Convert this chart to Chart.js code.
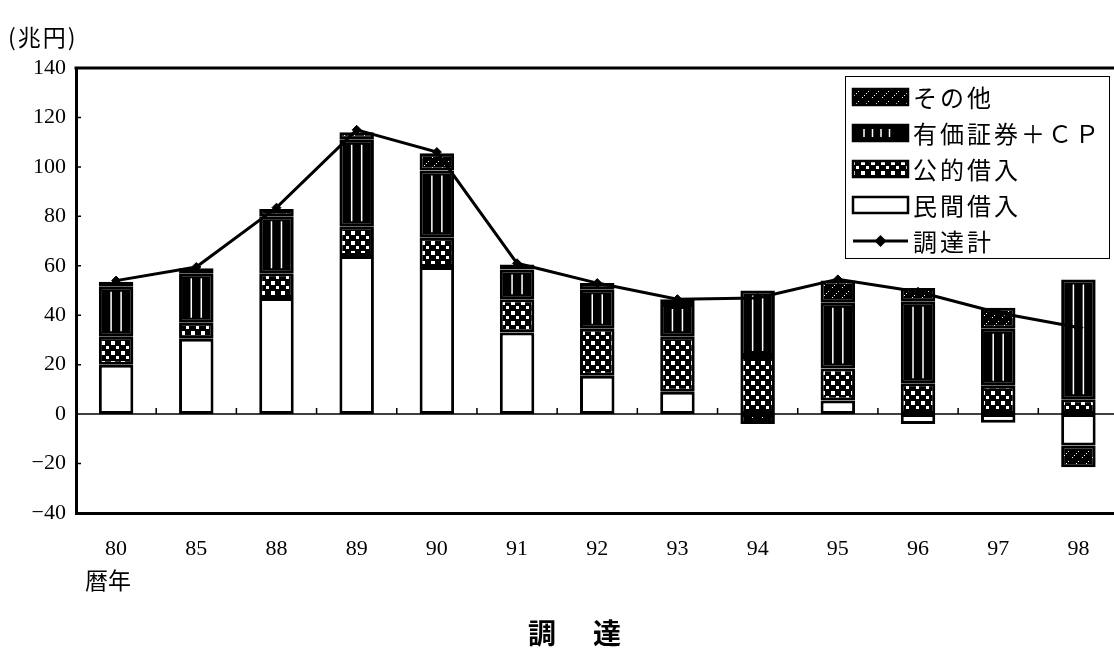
<!DOCTYPE html>
<html lang="ja">
<head>
<meta charset="utf-8">
<title>調達</title>
<script src="https://cdn.jsdelivr.net/npm/chart.js@4.4.1/dist/chart.umd.min.js"></script>
<style>
  html, body { margin: 0; padding: 0; background: #fff; overflow: hidden; }
  #chart { display: block; }
</style>
</head>
<body>
<canvas id="chart" width="1124" height="648"></canvas>
<script>
// 暦年
var years = ['80', '85', '88', '89', '90', '91', '92', '93', '94', '95', '96', '97', '98'];

// 調達の内訳（兆円）
var minkanKariire = [20, 30.5, 47, 64, 59.5, 33, 15.5, 9, 0, 5.5, -4, -3.5, -12.7];
var kotekiKariire = [11.5, 6.5, 10, 12, 12, 13.5, 19, 22.5, 23.5, 13, 12.5, 11.5, 6];
var yukaShoken = [20, 20, 23, 35, 27, 12, 16, 13, 26.5, 26.5, 33, 23, 48.5];
var sonota = [2, 2, 3, 3, 7, 2, 2.5, 2, -4, 9, 5.5, 8.5, -8.8];
var chotatsuKei = [54, 59.5, 83.5, 115, 106, 61, 53, 46.5, 47, 54.5, 49.5, 41, 35];

var yTicks = { min: -40, max: 140, step: 20 };

var numFont = '"Liberation Serif", "Noto Sans CJK JP", serif';
var jpFont = '"Noto Sans CJK JP", sans-serif';

var canvas = document.getElementById('chart');
var mainCtx = canvas.getContext('2d');

function makePattern(size, draw) {
    var c = document.createElement('canvas');
    c.width = size;
    c.height = size;
    var g = c.getContext('2d');
    g.fillStyle = '#000';
    g.fillRect(0, 0, size, size);
    g.fillStyle = '#fff';
    draw(g);
    return mainCtx.createPattern(c, 'repeat');
}

// 公的借入: checker
var checkFill = makePattern(10, function (g) {
    g.fillRect(1, 1, 4, 4);
    g.fillRect(6, 6, 3, 3);
});

// その他: sparse dotted diagonal hatch
var hatchFill = makePattern(10, function (g) {
    g.fillRect(2, 7, 1, 1);
    g.fillRect(4, 5, 1, 1);
    g.fillRect(6, 3, 1, 1);
    g.fillRect(8, 1, 1, 1);
});

function barSet(label, values, fill) {
    return {
        type: 'bar',
        label: label,
        data: values,
        backgroundColor: fill,
        borderColor: '#000',
        borderWidth: 3,
        borderSkipped: false,
        stack: 'parts',
        order: 1,
        categoryPercentage: 1,
        barPercentage: 0.43
    };
}

// white vertical stripes inside the securities segments
var stripePlugin = {
    id: 'stripes',
    afterDatasetDraw: function (chart, args) {
        if (args.index !== 2) return;
        var ctx = chart.ctx;
        ctx.save();
        ctx.strokeStyle = '#fff';
        ctx.lineWidth = 1.5;
        args.meta.data.forEach(function (bar) {
            var p = bar.getProps(['x', 'y', 'base'], true);
            var top = Math.min(p.y, p.base) + 5;
            var bottom = Math.max(p.y, p.base) - 5;
            if (bottom - top < 4) return;
            ctx.beginPath();
            ctx.moveTo(p.x - 5, top);
            ctx.lineTo(p.x - 5, bottom);
            ctx.moveTo(p.x + 5, top);
            ctx.lineTo(p.x + 5, bottom);
            ctx.stroke();
        });
        ctx.restore();
    }
};

// zero line, tick marks and the top edge of the plot box
var framePlugin = {
    id: 'frame',
    beforeDatasetsDraw: function (chart) {
        var ctx = chart.ctx;
        var area = chart.chartArea;
        var xs = chart.scales.x;
        var ys = chart.scales.y;
        var y0 = ys.getPixelForValue(0);
        ctx.save();
        ctx.strokeStyle = '#000';
        ctx.lineWidth = 1.5;
        ctx.beginPath();
        ctx.moveTo(area.left, y0);
        ctx.lineTo(area.right, y0);
        for (var i = 1; i < years.length; i++) {
            var bx = (xs.getPixelForValue(i - 1) + xs.getPixelForValue(i)) / 2;
            ctx.moveTo(bx, y0);
            ctx.lineTo(bx, y0 - 6);
        }
        ys.ticks.forEach(function (t) {
            var py = ys.getPixelForValue(t.value);
            ctx.moveTo(area.left, py);
            ctx.lineTo(area.left + 5, py);
        });
        ctx.stroke();
        ctx.lineWidth = 3;
        ctx.beginPath();
        ctx.moveTo(area.left - 1.5, area.top);
        ctx.lineTo(area.right, area.top);
        ctx.stroke();
        ctx.restore();
    }
};

function drawSwatch(ctx, kind, x, y, w, h) {
    ctx.save();
    ctx.lineWidth = 2.5;
    ctx.strokeStyle = '#000';
    if (kind === 'line') {
        ctx.beginPath();
        ctx.moveTo(x, y + h / 2);
        ctx.lineTo(x + w, y + h / 2);
        ctx.lineWidth = 3;
        ctx.stroke();
        var cx = x + w / 2, cy = y + h / 2, r = 6;
        ctx.beginPath();
        ctx.moveTo(cx, cy - r);
        ctx.lineTo(cx + r, cy);
        ctx.lineTo(cx, cy + r);
        ctx.lineTo(cx - r, cy);
        ctx.closePath();
        ctx.fillStyle = '#000';
        ctx.fill();
        ctx.restore();
        return;
    }
    ctx.fillStyle = kind === 'white' ? '#fff' : kind === 'check' ? checkFill : kind === 'hatch' ? hatchFill : '#000';
    ctx.fillRect(x, y, w, h);
    ctx.strokeRect(x, y, w, h);
    if (kind === 'stripe') {
        ctx.strokeStyle = '#fff';
        ctx.lineWidth = 1.5;
        ctx.beginPath();
        for (var k = 0; k < 4; k++) {
            var sx = x + 11 + k * 8.5;
            ctx.moveTo(sx, y + 4);
            ctx.lineTo(sx, y + h - 4);
        }
        ctx.stroke();
    }
    ctx.restore();
}

var legendItems = [
    { text: 'その他', kind: 'hatch' },
    { text: '有価証券＋ＣＰ', kind: 'stripe' },
    { text: '公的借入', kind: 'check' },
    { text: '民間借入', kind: 'white' },
    { text: '調達計', kind: 'line' }
];

// legend box and the free-standing texts
var textPlugin = {
    id: 'texts',
    afterDraw: function (chart) {
        var ctx = chart.ctx;
        ctx.save();
        ctx.fillStyle = '#fff';
        ctx.fillRect(845, 76, 265, 183);
        ctx.strokeStyle = '#000';
        ctx.lineWidth = 1;
        ctx.strokeRect(845.5, 76.5, 264, 182);
        ctx.font = '24px ' + jpFont;
        ctx.textBaseline = 'middle';
        ctx.textAlign = 'left';
        ctx.letterSpacing = '3px';
        legendItems.forEach(function (item, i) {
            var cy = 97 + i * 36;
            drawSwatch(ctx, item.kind, 853, cy - 8, 55, 16);
            ctx.fillStyle = '#000';
            ctx.fillText(item.text, 913, cy + 1);
        });
        ctx.letterSpacing = '0px';

        ctx.fillStyle = '#000';
        ctx.font = '23px ' + jpFont;
        ctx.letterSpacing = '2px';
        ctx.fillText('(兆円)', 8, 37);
        ctx.letterSpacing = '0px';
        ctx.fillText('暦年', 85, 580);

        ctx.font = 'bold 28px ' + jpFont;
        ctx.textAlign = 'center';
        ctx.fillText('調', 542, 633);
        ctx.fillText('達', 607, 633);
        ctx.restore();
    }
};

var chart = new Chart(canvas, {
    data: {
        labels: years,
        datasets: [
            barSet('民間借入', minkanKariire, '#fff'),
            barSet('公的借入', kotekiKariire, checkFill),
            barSet('有価証券＋ＣＰ', yukaShoken, '#000'),
            barSet('その他', sonota, hatchFill),
            {
                type: 'line',
                label: '調達計',
                data: chotatsuKei,
                stack: 'total',
                order: 0,
                borderColor: '#000',
                borderWidth: 3,
                backgroundColor: '#000',
                pointStyle: 'rectRot',
                pointRadius: 4.5,
                pointBorderWidth: 1,
                tension: 0
            }
        ]
    },
    options: {
        responsive: false,
        animation: false,
        devicePixelRatio: 1,
        layout: { padding: { top: 68, right: 1, bottom: 0, left: 0 } },
        plugins: {
            legend: { display: false },
            tooltip: { enabled: false }
        },
        scales: {
            x: {
                stacked: true,
                offset: true,
                grid: { display: false, drawTicks: false },
                border: { display: true, width: 3, color: '#000' },
                ticks: { color: '#000', padding: 23, font: { family: numFont, size: 22 } },
                afterFit: function (scale) { scale.height = 135; }
            },
            y: {
                stacked: true,
                min: yTicks.min,
                max: yTicks.max,
                grid: { display: false, drawTicks: false },
                border: { display: true, width: 3, color: '#000' },
                ticks: {
                    stepSize: yTicks.step,
                    color: '#000',
                    padding: 10,
                    font: { family: numFont, size: 22 },
                    callback: function (v) { return v < 0 ? '\u2212' + Math.abs(v) : String(v); }
                },
                afterFit: function (scale) { scale.width = 76; }
            }
        }
    },
    plugins: [stripePlugin, framePlugin, textPlugin]
});
</script>
</body>
</html>
